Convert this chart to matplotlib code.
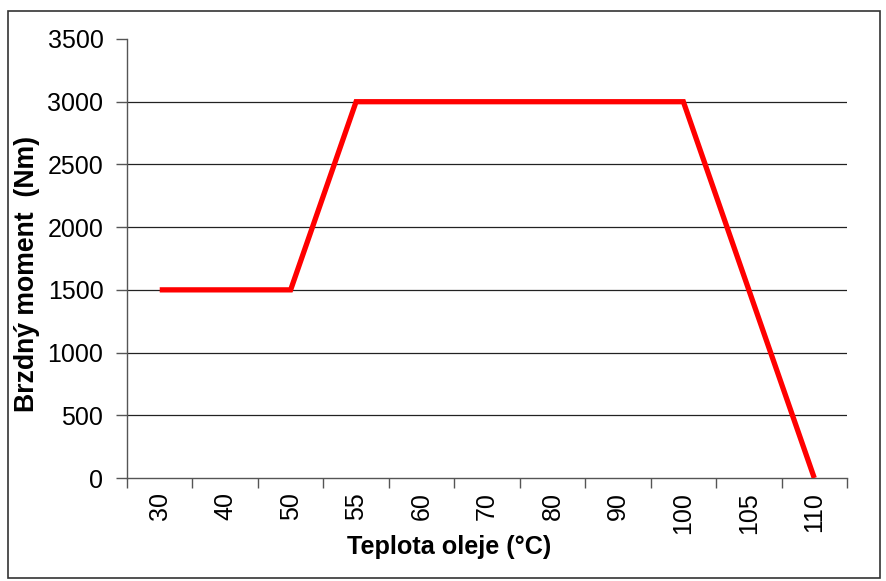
import matplotlib
matplotlib.use("Agg")
import matplotlib.pyplot as plt
from matplotlib.patches import Rectangle

categories = ["30", "40", "50", "55", "60", "70", "80", "90", "100", "105", "110"]
values = [1500, 1500, 1500, 3000, 3000, 3000, 3000, 3000, 3000, 1500, 0]
yticks = [0, 500, 1000, 1500, 2000, 2500, 3000, 3500]

plt.rcParams['font.family'] = ['Liberation Sans', 'DejaVu Sans']

fig = plt.figure(figsize=(8.86, 5.81), dpi=100)
fig.patches.append(Rectangle((8/886, 1-578/581), 872/886, 567/581, transform=fig.transFigure,
                             fill=False, edgecolor='#333333', linewidth=1.2))
ax = fig.add_axes([127/886, 1-478/581, 720/886, 439/581])

x = list(range(len(categories)))
ax.plot(x, values, color='#FF0000', linewidth=3.8, solid_capstyle='butt', solid_joinstyle='miter', zorder=3)

ax.set_xlim(-0.5, len(categories)-0.5)
ax.set_ylim(0, 3500)
ax.set_yticks(yticks)
ax.set_yticklabels([str(v) for v in yticks])
ax.set_xticks([i - 0.5 for i in range(len(categories)+1)])
ax.set_xticklabels([])
ax.set_xticks(x, minor=True)
ax.set_xticklabels(categories, minor=True, rotation=90)
ax.tick_params(axis='x', which='minor', length=0, pad=10, labelsize=18)
ax.tick_params(axis='x', which='major', length=7, width=1, color='#555555', direction='out')
ax.tick_params(axis='y', length=8, width=1, color='#555555', pad=9, labelsize=18)

for v in yticks[1:-1]:
    ax.axhline(v, color='#222222', linewidth=0.9, zorder=1)

for s in ['top', 'right']:
    ax.spines[s].set_visible(False)
for s in ['left', 'bottom']:
    ax.spines[s].set_color('#555555')
    ax.spines[s].set_linewidth(1)

ax.set_xlabel("Teplota oleje (°C)", fontsize=18.2, fontweight='bold')
ax.xaxis.set_label_coords((449-127)/720, (478-535)/439)
ax.set_ylabel("Brzdný moment  (Nm)", fontsize=19.2, fontweight='bold')
ax.yaxis.set_label_coords((40-127)/720, (478-274)/439)

fig.savefig("out.png", dpi=100)
